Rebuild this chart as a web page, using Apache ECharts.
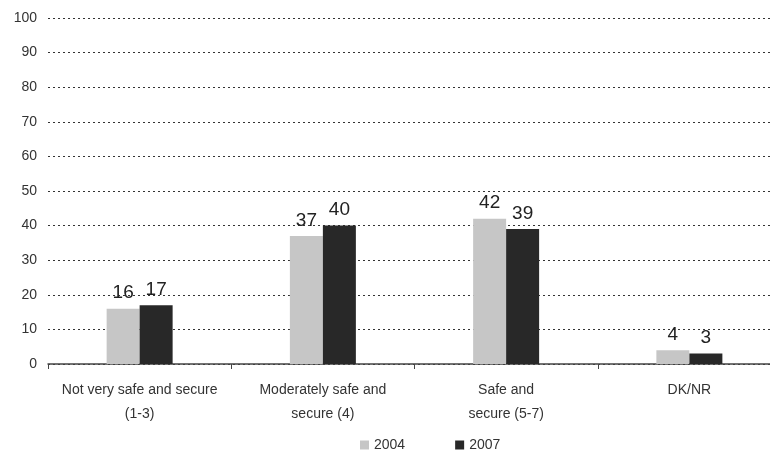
<!DOCTYPE html>
<html>
<head>
<meta charset="utf-8">
<script src="https://cdn.jsdelivr.net/npm/echarts@6/dist/echarts.min.js"></script>
<style>
  html, body { margin: 0; padding: 0; background: #fff; overflow: hidden; }
  #chart { width: 781px; height: 454px; }
</style>
</head>
<body>
<div id="chart"></div>
<script>
var categories = ['Not very safe and secure\n(1-3)', 'Moderately safe and\nsecure (4)', 'Safe and\nsecure (5-7)', 'DK/NR']
var data2004 = [16, 37, 42, 4]
var data2007 = [17, 40, 39, 3]
var yTicks = [0, 10, 20, 30, 40, 50, 60, 70, 80, 90, 100]

var chart = echarts.init(document.getElementById('chart'), null, { renderer: 'canvas' })

var labelStyle = {
  show: true,
  position: 'top',
  distance: 6,
  color: '#222',
  fontSize: 19,
  fontFamily: 'Liberation Sans'
}

var option = {
  animation: false,
  textStyle: { fontFamily: 'Liberation Sans' },
  grid: {
    left: 48,
    right: 0,
    top: 18,
    bottom: 90
  },
  legend: {
    bottom: -3,
    left: 355,
    itemWidth: 9,
    itemHeight: 9,
    itemGap: 50,
    icon: 'rect',
    textStyle: { color: '#333', fontSize: 14 },
    data: ['2004', '2007']
  },
  xAxis: {
    type: 'category',
    data: categories,
    axisLine: { lineStyle: { color: '#444', width: 1.5 } },
    axisTick: { show: true, alignWithLabel: false, length: 5, lineStyle: { color: '#444' } },
    axisLabel: {
      color: '#333',
      fontSize: 14,
      lineHeight: 24,
      margin: 14,
      interval: 0
    }
  },
  yAxis: {
    type: 'value',
    min: yTicks[0],
    max: yTicks[yTicks.length - 1],
    interval: 10,
    axisLine: { show: false },
    axisTick: { show: false },
    axisLabel: { color: '#333', fontSize: 14, margin: 11 },
    splitLine: {
      lineStyle: { color: '#333', type: [2, 3], width: 1.2 }
    }
  },
  series: [
    {
      name: '2004',
      type: 'bar',
      data: data2004,
      barWidth: 33,
      barGap: '0%',
      itemStyle: { color: '#c6c6c6' },
      label: labelStyle
    },
    {
      name: '2007',
      type: 'bar',
      data: data2007,
      barWidth: 33,
      barGap: '0%',
      itemStyle: { color: '#282828' },
      label: labelStyle
    }
  ]
}

chart.setOption(option)
</script>
</body>
</html>
